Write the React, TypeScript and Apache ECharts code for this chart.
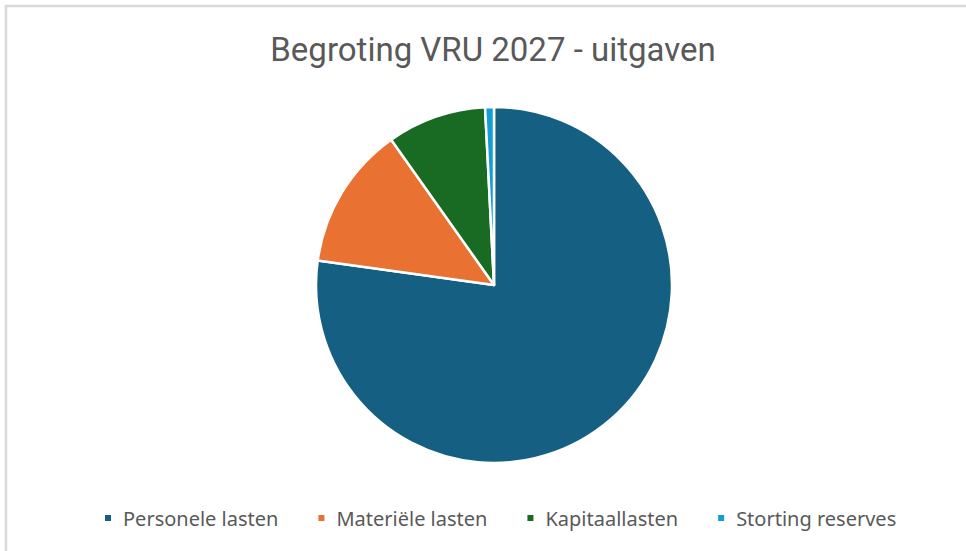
import React, { useEffect, useRef } from "react";
import * as echarts from "echarts";

const categories = ["Personele lasten", "Materiële lasten", "Kapitaallasten", "Storting reserves"];
const values = [77.2, 13.0, 9.0, 0.8];
const colors = ["#156082", "#E97132", "#196B24", "#0F9ED5"];
const titleText = "Begroting VRU 2027 - uitgaven";

export default function App() {
  const ref = useRef<HTMLDivElement>(null);
  useEffect(() => {
    document.body.style.margin = "0";
    const chart = echarts.init(ref.current!, null, { renderer: "svg" });
    chart.setOption({
      animation: false,
      backgroundColor: "#ffffff",
      title: {
        text: titleText,
        top: 28,
        left: 488,
        textAlign: "center",
        textStyle: { fontFamily: "Roboto", fontSize: 33, fontWeight: "normal", color: "#595959" },
      },
      legend: {
        data: categories,
        bottom: 18,
        left: 98,
        icon: "rect",
        itemWidth: 8,
        itemHeight: 8,
        itemGap: 38,
        textStyle: { fontFamily: "Noto Sans", fontSize: 20, color: "#595959", padding: [0, 0, 0, 6] },
      },
      graphic: [
        {
          type: "rect",
          shape: { x: 6, y: 6, width: 1000, height: 600 },
          style: { fill: "none", stroke: "#d9d9d9", lineWidth: 2.5 },
          silent: true,
        },
      ],
      series: [
        {
          type: "pie",
          center: [494, 285],
          radius: 178,
          startAngle: 90,
          clockwise: true,
          label: { show: false },
          labelLine: { show: false },
          itemStyle: { borderColor: "#ffffff", borderWidth: 2.5 },
          data: categories.map((name, i) => ({ name, value: values[i], itemStyle: { color: colors[i] } })),
        },
      ],
    });
    return () => chart.dispose();
  }, []);
  return <div ref={ref} style={{ width: 966, height: 551 }} />;
}
